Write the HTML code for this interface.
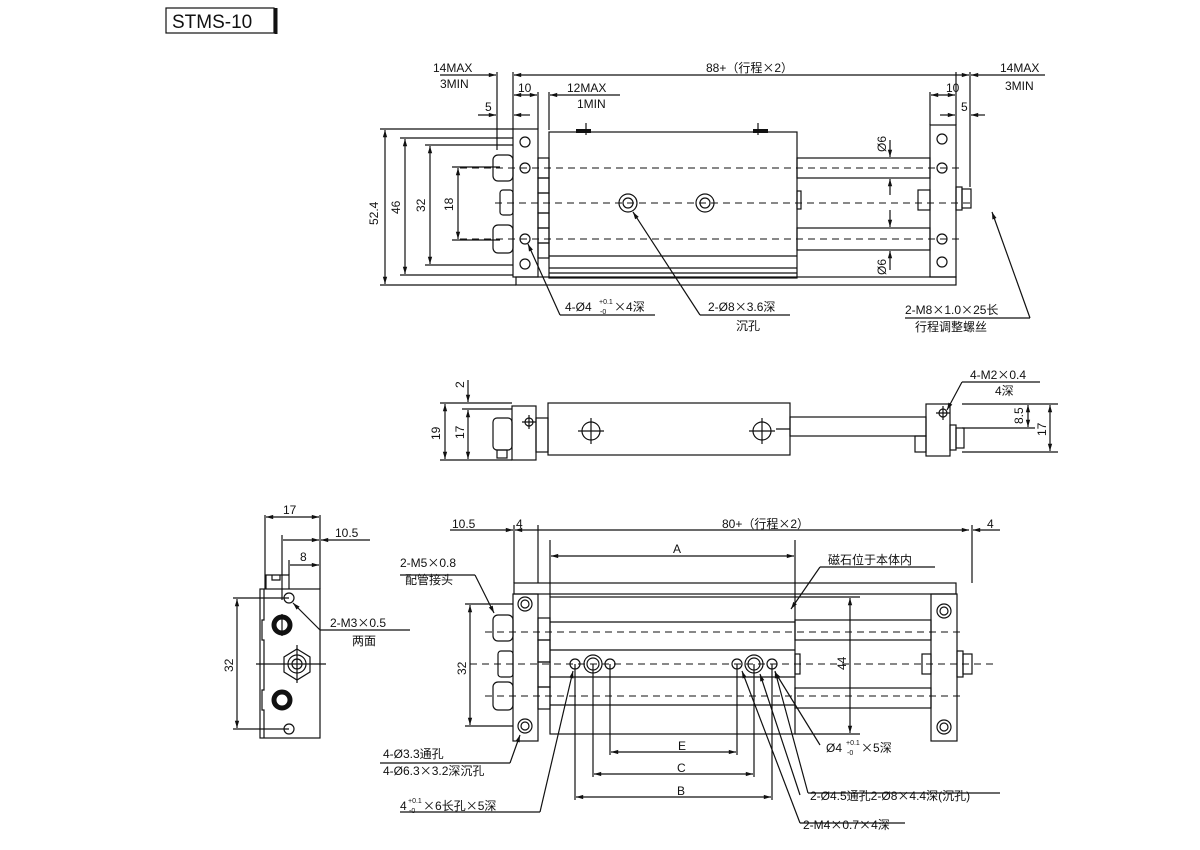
<!DOCTYPE html>
<html><head><meta charset="utf-8"><style>
html,body{margin:0;padding:0;background:#fff;}
svg{display:block}
text{font-family:"Liberation Sans","Noto Sans CJK SC",sans-serif;font-size:12px;fill:#111}
.x{font-family:"Noto Sans CJK SC",sans-serif}
.s{font-size:7px}
</style></head><body>
<svg width="1200" height="850" viewBox="0 0 1200 850" xmlns="http://www.w3.org/2000/svg">
<defs>
<marker id="a" viewBox="0 0 10 10" refX="10" refY="5" markerWidth="8" markerHeight="6" orient="auto-start-reverse"><path d="M0,2 L10,5 L0,8z" fill="#111"/></marker>
</defs>
<g fill="none" stroke="#111" stroke-width="1.2">
<rect x="166" y="8" width="108" height="25"/>
<line x1="276" y1="8" x2="276" y2="34" stroke-width="3"/>
</g>
<text x="172" y="28" style="font-size:19px">STMS-10</text>

<!-- ===== TOP VIEW ===== -->
<g fill="none" stroke="#111" stroke-width="1.2">
<rect x="513" y="129" width="25" height="148"/>
<rect x="538" y="158" width="11" height="20"/><rect x="538" y="178" width="11" height="15"/><rect x="538" y="193" width="11" height="20"/><rect x="538" y="228" width="11" height="15"/><rect x="538" y="213" width="11" height="15"/><rect x="538" y="243" width="11" height="15"/>
<rect x="549" y="132" width="248" height="146"/>
<line x1="549" y1="256" x2="797" y2="256"/><line x1="549" y1="268" x2="797" y2="268"/><line x1="549" y1="273" x2="797" y2="273"/>
<rect x="797" y="158" width="133" height="20"/><rect x="797" y="228" width="133" height="22"/>
<rect x="797" y="191" width="4" height="18"/>
<rect x="930" y="125" width="26" height="152"/>
<rect x="918" y="190" width="12" height="20"/>
<rect x="956" y="187" width="6" height="23"/><rect x="962" y="189" width="9" height="19"/>
<rect x="516" y="277" width="440" height="8"/>
<rect x="493" y="155" width="20" height="26" rx="5"/><rect x="493" y="225" width="20" height="28" rx="5"/>
<rect x="500" y="190" width="13" height="25" rx="3"/>
<circle cx="525" cy="142" r="5"/><circle cx="525" cy="168" r="5"/><circle cx="525" cy="239" r="5"/><circle cx="525" cy="264" r="5"/>
<circle cx="628" cy="203" r="9"/><circle cx="628" cy="203" r="5"/><circle cx="705" cy="203" r="9"/><circle cx="705" cy="203" r="5"/>
<circle cx="942" cy="139" r="5"/><circle cx="942" cy="168" r="5"/><circle cx="942" cy="239" r="5"/><circle cx="942" cy="262" r="5"/>
<path d="M576 131h15M753 131h15" stroke-width="4"/>
<path d="M586 123v12M758 123v12"/>
<g stroke-dasharray="7,5" stroke-width="1">
<line x1="460" y1="168" x2="960" y2="168"/><line x1="495" y1="203" x2="975" y2="203"/><line x1="460" y1="239" x2="960" y2="239"/>
</g>
<path d="M380 129H513M400 138H513M425 145H513M452 167H500M452 240H500M400 275H513M425 265H513M380 285H516"/>
<line x1="385" y1="130" x2="385" y2="284" marker-start="url(#a)" marker-end="url(#a)"/>
<line x1="405" y1="139" x2="405" y2="274" marker-start="url(#a)" marker-end="url(#a)"/>
<line x1="430" y1="146" x2="430" y2="264" marker-start="url(#a)" marker-end="url(#a)"/>
<line x1="458" y1="168" x2="458" y2="239" marker-start="url(#a)" marker-end="url(#a)"/>
<path d="M497 72V150M513 72V129M538 92V129M549 92V130M956 72V125M970 72V187M930 92V125M497 112V150"/>
<line x1="514" y1="75" x2="969" y2="75" marker-start="url(#a)" marker-end="url(#a)"/>
<line x1="440" y1="75" x2="496" y2="75" marker-end="url(#a)"/><line x1="1045" y1="75" x2="971" y2="75" marker-end="url(#a)"/>
<line x1="514" y1="95" x2="537" y2="95" marker-start="url(#a)" marker-end="url(#a)"/>
<line x1="620" y1="95" x2="550" y2="95" marker-end="url(#a)"/>
<line x1="931" y1="95" x2="955" y2="95" marker-start="url(#a)" marker-end="url(#a)"/>
<line x1="478" y1="115" x2="496" y2="115" marker-end="url(#a)"/><line x1="530" y1="115" x2="514" y2="115" marker-end="url(#a)"/>
<line x1="940" y1="115" x2="955" y2="115" marker-end="url(#a)"/><line x1="985" y1="115" x2="971" y2="115" marker-end="url(#a)"/>
<line x1="890" y1="140" x2="890" y2="157" marker-end="url(#a)"/><line x1="890" y1="195" x2="890" y2="179" marker-end="url(#a)"/>
<line x1="890" y1="210" x2="890" y2="227" marker-end="url(#a)"/><line x1="890" y1="270" x2="890" y2="251" marker-end="url(#a)"/>
<path d="M560 315H655"/><line x1="560" y1="315" x2="528" y2="244" marker-end="url(#a)"/>
<path d="M700 315H790"/><line x1="700" y1="315" x2="633" y2="212" marker-end="url(#a)"/>
<path d="M905 318H1030"/><line x1="1030" y1="318" x2="992" y2="212" marker-end="url(#a)"/>
</g>
<text x="433" y="72">14MAX</text><text x="440" y="88">3MIN</text>
<text x="518" y="92">10</text><text x="567" y="92">12MAX</text><text x="577" y="108">1MIN</text>
<text x="485" y="111">5</text>
<text x="706" y="72">88+（行程<tspan class="x">×</tspan>2）</text>
<text x="946" y="92">10</text><text x="961" y="111">5</text>
<text x="1000" y="72">14MAX</text><text x="1005" y="90">3MIN</text>
<text transform="translate(378,225) rotate(-90)">52.4</text>
<text transform="translate(400,214) rotate(-90)">46</text>
<text transform="translate(425,212) rotate(-90)">32</text>
<text transform="translate(453,211) rotate(-90)">18</text>
<text transform="translate(886,152) rotate(-90)">Ø6</text>
<text transform="translate(886,275) rotate(-90)">Ø6</text>
<text x="565" y="311">4-Ø4</text><text x="599" y="304" class="s">+0.1</text><text x="600" y="314" class="s">-0</text><text x="614" y="311"><tspan class="x">×</tspan>4深</text>
<text x="708" y="311">2-Ø8<tspan class="x">×</tspan>3.6深</text><text x="736" y="330">沉孔</text>
<text x="905" y="314">2-M8<tspan class="x">×</tspan>1.0<tspan class="x">×</tspan>25长</text><text x="915" y="331">行程调整螺丝</text>

<!-- ===== MIDDLE VIEW ===== -->
<g fill="none" stroke="#111" stroke-width="1.2">
<rect x="548" y="403" width="242" height="52"/>
<rect x="512" y="406" width="24" height="54"/>
<rect x="536" y="418" width="12" height="34"/>
<rect x="493" y="418" width="19" height="32" rx="4"/><rect x="497" y="450" width="10" height="8"/>
<rect x="790" y="417" width="136" height="19"/>
<rect x="926" y="404" width="24" height="52"/>
<rect x="915" y="436" width="11" height="16"/>
<rect x="950" y="425" width="6" height="25"/><rect x="956" y="428" width="8" height="20"/>
<circle cx="591" cy="431" r="9"/><path d="M578 431h26M591 418v26"/>
<circle cx="762" cy="431" r="9"/><path d="M749 431h26M762 418v26M776 429H790"/>
<circle cx="529" cy="422" r="4"/><path d="M522 422h14M529 415v14"/>
<circle cx="943" cy="413" r="4"/><path d="M936 413h14M943 406v14"/>
<path d="M440 403H512M440 460H512M462 409H512M962 404H1058M962 428H1035M962 452H1058"/>
<line x1="445" y1="404" x2="445" y2="459" marker-start="url(#a)" marker-end="url(#a)"/>
<line x1="468" y1="410" x2="468" y2="459" marker-start="url(#a)" marker-end="url(#a)"/>
<line x1="468" y1="380" x2="468" y2="402" marker-end="url(#a)"/>
<line x1="1050" y1="405" x2="1050" y2="451" marker-start="url(#a)" marker-end="url(#a)"/>
<line x1="1028" y1="405" x2="1028" y2="427" marker-start="url(#a)" marker-end="url(#a)"/>
<path d="M962 382H1040"/><line x1="962" y1="382" x2="947" y2="410" marker-end="url(#a)"/>
</g>
<text transform="translate(464,388) rotate(-90)">2</text>
<text transform="translate(440,440) rotate(-90)">19</text>
<text transform="translate(464,439) rotate(-90)">17</text>
<text transform="translate(1023,424) rotate(-90)">8.5</text>
<text transform="translate(1046,436) rotate(-90)">17</text>
<text x="970" y="379">4-M2<tspan class="x">×</tspan>0.4</text><text x="995" y="395">4深</text>

<!-- ===== SIDE VIEW ===== -->
<g fill="none" stroke="#111" stroke-width="1.2">
<rect x="260" y="589" width="60" height="149"/>
<path d="M266 589V575H289V589M272 575V580H280V575"/>
<path d="M264 589V620H262V640H264V690H262V710H264V738"/>
<circle cx="289" cy="598" r="5"/><circle cx="289" cy="729" r="5"/>
<circle cx="282" cy="625" r="8" stroke-width="5"/><circle cx="282" cy="700" r="8" stroke-width="5"/>
<polygon points="297,649 310,657 310,672 297,680 284,672 284,657"/>
<circle cx="297" cy="664" r="9"/><circle cx="297" cy="664" r="5"/>
<path d="M256 664H326M282 614v22M297 645v38"/>
<path d="M265 515V589M320 515V589M282 535V600M289 560V575M233 598H289M233 729H289"/>
<line x1="266" y1="517" x2="319" y2="517" marker-start="url(#a)" marker-end="url(#a)"/>
<line x1="283" y1="540" x2="319" y2="540" marker-end="url(#a)"/><line x1="370" y1="540" x2="321" y2="540" marker-end="url(#a)"/>
<line x1="290" y1="565" x2="319" y2="565" marker-end="url(#a)"/>
<line x1="237" y1="599" x2="237" y2="728" marker-start="url(#a)" marker-end="url(#a)"/>
<path d="M320 630H410"/><line x1="320" y1="630" x2="293" y2="603" marker-end="url(#a)"/>
</g>
<text x="283" y="514">17</text><text x="335" y="537">10.5</text><text x="300" y="561">8</text>
<text transform="translate(233,672) rotate(-90)">32</text>
<text x="330" y="627">2-M3<tspan class="x">×</tspan>0.5</text><text x="352" y="645">两面</text>

<!-- ===== BOTTOM VIEW ===== -->
<g fill="none" stroke="#111" stroke-width="1.2">
<rect x="514" y="583" width="442" height="11"/>
<rect x="513" y="594" width="25" height="147"/>
<rect x="538" y="618" width="12" height="22"/><rect x="538" y="640" width="12" height="22"/><rect x="538" y="662" width="12" height="25"/><rect x="538" y="687" width="12" height="22"/>
<rect x="550" y="597" width="245" height="137"/>
<path d="M550 622H795M550 650H795M550 677H795M550 705H795"/>
<rect x="795" y="620" width="136" height="20"/><rect x="795" y="688" width="136" height="20"/>
<rect x="795" y="654" width="5" height="20"/>
<rect x="931" y="594" width="26" height="147"/>
<rect x="922" y="654" width="9" height="20"/>
<rect x="957" y="651" width="6" height="26"/><rect x="963" y="654" width="9" height="20"/>
<rect x="493" y="615" width="20" height="26" rx="5"/><rect x="493" y="682" width="20" height="28" rx="5"/>
<rect x="498" y="651" width="15" height="26" rx="3"/>
<circle cx="525" cy="604" r="7"/><circle cx="525" cy="604" r="4"/>
<circle cx="525" cy="726" r="7"/><circle cx="525" cy="726" r="4"/>
<circle cx="944" cy="611" r="7"/><circle cx="944" cy="611" r="4"/>
<circle cx="944" cy="727" r="7"/><circle cx="944" cy="727" r="4"/>
<circle cx="575" cy="664" r="5"/><circle cx="593" cy="664" r="9"/><circle cx="593" cy="664" r="6"/><circle cx="610" cy="664" r="5"/>
<circle cx="737" cy="664" r="5"/><circle cx="754" cy="664" r="9"/><circle cx="754" cy="664" r="6"/><circle cx="772" cy="664" r="5"/>
<g stroke-dasharray="7,5" stroke-width="1">
<line x1="485" y1="632" x2="965" y2="632"/><line x1="470" y1="664" x2="995" y2="664"/><line x1="485" y1="696" x2="965" y2="696"/>
</g>
<path d="M514 525V583M538 525V583M972 525V583M550 540V597M795 540V597M795 597H860M795 734H860"/>
<line x1="515" y1="530" x2="969" y2="530" marker-start="url(#a)" marker-end="url(#a)"/>
<line x1="450" y1="530" x2="513" y2="530" marker-end="url(#a)"/>
<line x1="1000" y1="530" x2="973" y2="530" marker-end="url(#a)"/>
<line x1="551" y1="556" x2="794" y2="556" marker-start="url(#a)" marker-end="url(#a)"/>
<line x1="850" y1="598" x2="850" y2="733" marker-start="url(#a)" marker-end="url(#a)"/>
<path d="M465 604H513M465 726H513"/>
<line x1="470" y1="605" x2="470" y2="725" marker-start="url(#a)" marker-end="url(#a)"/>
<path d="M575 664V800M593 664V777M610 664V755M737 664V755M754 664V777M772 664V800"/>
<line x1="611" y1="752" x2="736" y2="752" marker-start="url(#a)" marker-end="url(#a)"/>
<line x1="594" y1="774" x2="753" y2="774" marker-start="url(#a)" marker-end="url(#a)"/>
<line x1="576" y1="797" x2="771" y2="797" marker-start="url(#a)" marker-end="url(#a)"/>
<path d="M820 567H935"/><line x1="820" y1="567" x2="791" y2="609" marker-end="url(#a)"/>
<path d="M400 575H475"/><line x1="475" y1="575" x2="494" y2="613" marker-end="url(#a)"/>
<path d="M380 763H510"/><line x1="510" y1="763" x2="520" y2="735" marker-end="url(#a)"/>
<path d="M400 812H540"/><line x1="540" y1="812" x2="573" y2="671" marker-end="url(#a)"/>
<line x1="800" y1="795" x2="760" y2="674" marker-end="url(#a)"/>
<line x1="808" y1="793" x2="775" y2="671" marker-end="url(#a)"/>
<line x1="800" y1="823" x2="742" y2="671" marker-end="url(#a)"/>
<line x1="820" y1="745" x2="775" y2="672" marker-end="url(#a)"/>
<path d="M800 823H905M808 793H1000"/>
</g>
<text x="452" y="528">10.5</text><text x="516" y="528">4</text>
<text x="722" y="528">80+（行程<tspan class="x">×</tspan>2）</text><text x="987" y="528">4</text>
<text x="673" y="553">A</text>
<text x="828" y="564">磁石位于本体内</text>
<text x="400" y="567">2-M5<tspan class="x">×</tspan>0.8</text><text x="405" y="584">配管接头</text>
<text transform="translate(466,675) rotate(-90)">32</text>
<text transform="translate(846,670) rotate(-90)">44</text>
<text x="678" y="750">E</text><text x="677" y="772">C</text><text x="677" y="795">B</text>
<text x="826" y="752">Ø4</text><text x="846" y="745" class="s">+0.1</text><text x="847" y="755" class="s">-0</text><text x="861" y="752"><tspan class="x">×</tspan>5深</text>
<text x="383" y="758">4-Ø3.3通孔</text><text x="383" y="775">4-Ø6.3<tspan class="x">×</tspan>3.2深沉孔</text>
<text x="400" y="810">4</text><text x="408" y="803" class="s">+0.1</text><text x="409" y="813" class="s">-0</text><text x="423" y="810"><tspan class="x">×</tspan>6长孔<tspan class="x">×</tspan>5深</text>
<text x="810" y="800">2-Ø4.5通孔2-Ø8<tspan class="x">×</tspan>4.4深(沉孔)</text>
<text x="803" y="829">2-M4<tspan class="x">×</tspan>0.7<tspan class="x">×</tspan>4深</text>
</svg>
</body></html>
